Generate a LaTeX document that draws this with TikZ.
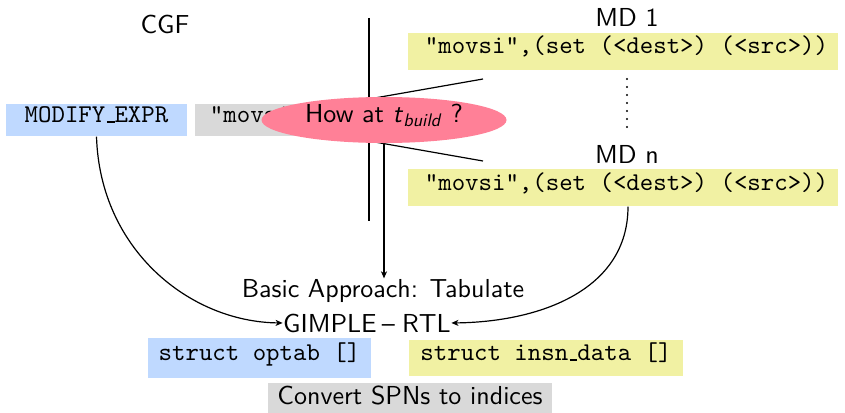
\documentclass[tikz,border=0pt]{standalone}
\usepackage{fontspec}
\setsansfont{lmsans10-regular.otf}[ItalicFont=lmsans10-oblique.otf]
\setmonofont{lmmono10-regular.otf}
\usetikzlibrary{shapes.geometric,arrows.meta}
\definecolor{boxblue}{RGB}{191,217,255}
\definecolor{boxyellow}{RGB}{241,241,163}
\definecolor{boxgray}{RGB}{217,217,217}
\definecolor{askpink}{RGB}{255,128,151}
% typewriter underscore drawn as a short rule on the baseline
\newcommand\ttbar{\leavevmode\kern.06em\rule{.3em}{.07em}}
\begin{document}
\begin{tikzpicture}[x=1pt,y=-1pt,
    font=\fontsize{26}{31}\selectfont\sffamily,
    line width=1.2pt,
    >={Stealth[length=7pt,width=6pt,inset=2pt]},
    codebox/.style={inner sep=0pt,text height=.75em,text depth=.25em,font=\fontsize{25.6}{30}\selectfont\ttfamily},
    label/.style={inner sep=0pt,anchor=base}]
  \useasboundingbox (0,0) rectangle (845,412);

  % headings
  \node[label] (cgf) at (165,34) {CGF};
  \node[label] (md1lbl) at (627,27) {MD 1};
  \node[label] (mdnlbl) at (627,163) {MD n};

  % machine descriptions
  \node[codebox,fill=boxyellow,minimum width=430,minimum height=37] (md1) at (623,51.5) {\hspace*{7pt}"movsi",(set (<dest>) (<src>))};
  \node[codebox,fill=boxyellow,minimum width=430,minimum height=37] (mdn) at (623,187.5) {\hspace*{7pt}"movsi",(set (<dest>) (<src>))};
  \foreach \y in {79,87,...,127} \fill (627,\y) circle (1.1);

  % CGF side
  \node[codebox,fill=boxblue,minimum width=181,minimum height=32] (modify) at (96.5,120) {MODIFY\ttbar EXPR};
  \node[codebox,fill=boxgray,minimum width=124,minimum height=32] (pattern) at (257,120) {"movsi"};

  % separator and fan towards the descriptions
  \coordinate (septop) at (369,18);
  \coordinate (sepbot) at (369,221);
  \draw (septop) -- (sepbot);
  \coordinate (fanup) at (369,99);
  \coordinate (fanupend) at (483,79);
  \coordinate (fandown) at (369,141);
  \coordinate (fandownend) at (483,161);
  \draw (fanup) -- (fanupend);
  \draw (fandown) -- (fandownend);

  \node[ellipse,fill=askpink,inner sep=0pt,minimum width=245,minimum height=46,
        text height=.7em,text depth=.23em] (how) at (384,120)
        {How at \textit{t}\textsubscript{\textit{build}} ?};

  % answer
  \node[label] (basic) at (383,297) {Basic Approach: Tabulate};
  \node[label] (gimple) at (367,332) {GIMPLE\hspace{.2em}--\hspace{.28em}RTL};
  \draw[->] (how.south) -- (how.south |- basic.north);

  \node[codebox,fill=boxblue,minimum width=223,minimum height=40] (optab) at (259.5,358) {struct optab []};
  \node[codebox,fill=boxyellow,minimum width=274,minimum height=36] (insn) at (546,358) {struct insn\ttbar data []};
  \node[inner sep=0pt,text height=.75em,text depth=.25em,fill=boxgray,minimum width=284,minimum height=38] (convert) at (410,401.6) {Convert SPNs to indices};

  % connectors
  \draw[->] (modify.south) .. controls (100,250) and (190,322) .. (gimple.west);
  \draw[->] ([xshift=5pt]mdn.south) .. controls (628,290) and (540,322) .. (gimple.east);
\end{tikzpicture}
\end{document}
